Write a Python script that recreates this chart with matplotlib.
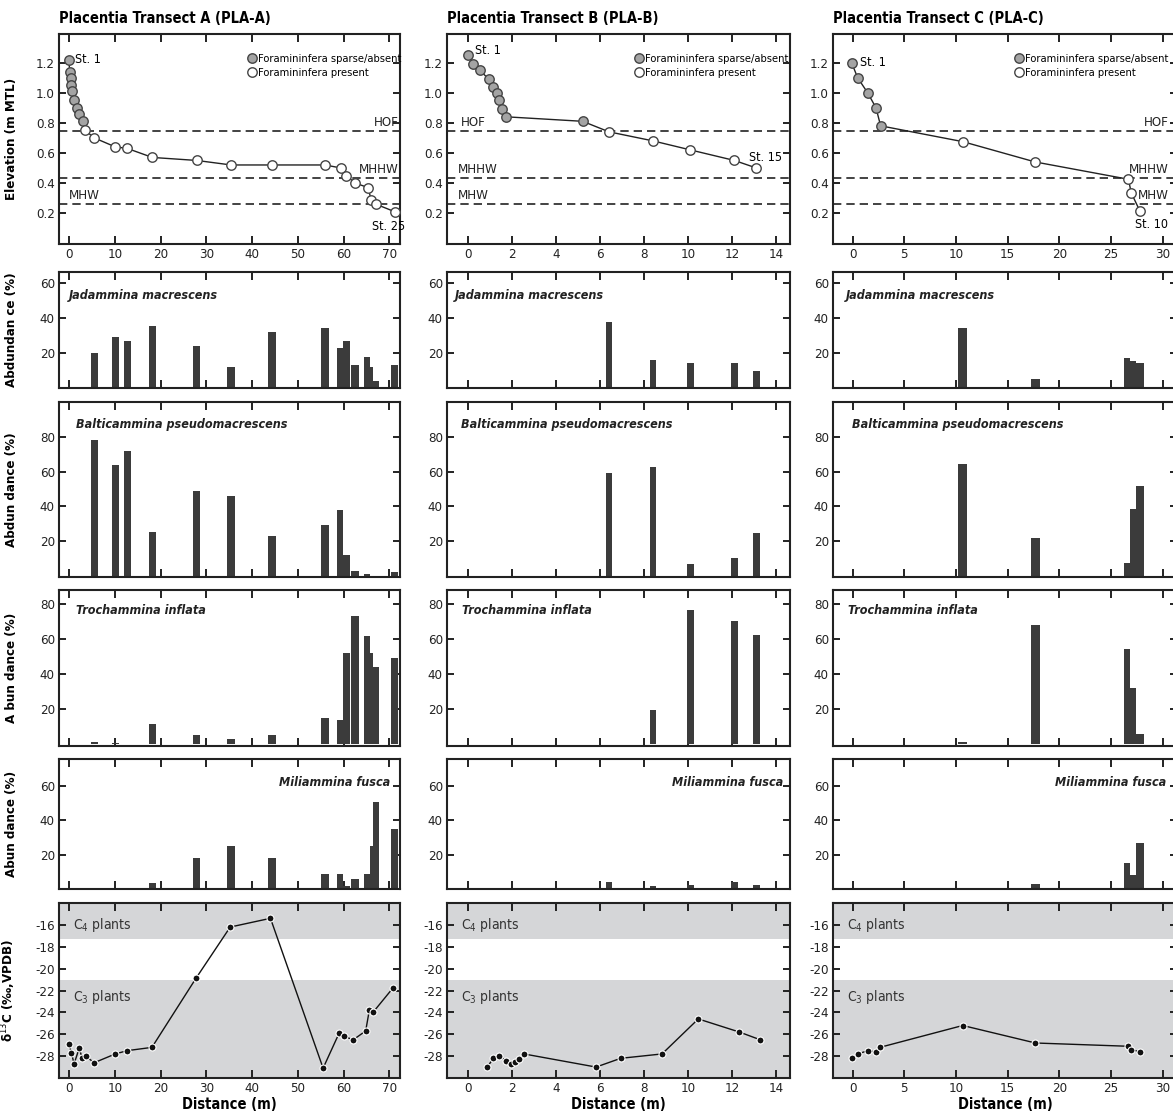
import matplotlib
matplotlib.use("Agg")
import matplotlib.pyplot as plt
import numpy as np

plt.rcParams["font.family"] = ["DejaVu Sans"]
plt.rcParams["font.stretch"] = "condensed"
plt.rcParams["axes.unicode_minus"] = False

# --------------------------------------------------------------------------- #
# elevation profiles (m MTL); sparse = foraminifera sparse/absent
A_SPARSE_X = [0.0, 0.1, 0.4, 0.5, 0.7, 1.1, 1.7, 2.1, 3.0]
A_SPARSE_Y = [1.22, 1.14, 1.10, 1.05, 1.01, 0.95, 0.90, 0.86, 0.81]
A_PRES_X = [3.5, 5.5, 10.1, 12.7, 18.2, 27.9, 35.4, 44.3, 55.9, 59.4, 60.5, 62.5,
            65.3, 66.0, 67.0, 71.1]
A_PRES_Y = [0.75, 0.70, 0.64, 0.63, 0.57, 0.55, 0.52, 0.52, 0.52, 0.50, 0.45, 0.40,
            0.37, 0.29, 0.26, 0.21]

B_SPARSE_X = [0.0, 0.23, 0.53, 0.92, 1.14, 1.29, 1.38, 1.53, 1.71, 5.2]
B_SPARSE_Y = [1.25, 1.19, 1.15, 1.09, 1.04, 1.00, 0.95, 0.89, 0.84, 0.81]
B_PRES_X = [6.4, 8.4, 10.1, 12.1, 13.1]
B_PRES_Y = [0.74, 0.68, 0.62, 0.55, 0.50]

C_SPARSE_X = [-0.1, 0.48, 1.45, 2.26, 2.71]
C_SPARSE_Y = [1.20, 1.10, 1.00, 0.90, 0.78]
C_PRES_X = [10.66, 17.67, 26.7, 26.97, 27.8]
C_PRES_Y = [0.675, 0.54, 0.425, 0.335, 0.215]

HOF, MHHW, MHW = 0.745, 0.435, 0.26

# relative abundance (%) at the "present" stations
JAD_A = [0, 20, 29, 27, 35, 24, 12, 32, 34, 23, 27, 13, 17.5, 12, 4, 13]
BAL_A = [0, 78, 64, 72, 25, 49, 46, 23, 29, 38, 12, 3, 1, 0, 0, 2]
TRO_A = [0, 1.5, 0.6, 0, 11.4, 5, 3.2, 5, 15, 14, 52, 73, 61.5, 52, 44, 49]
MIL_A = [0, 0, 0, 0, 3.5, 18, 25, 18, 9, 9, 1.6, 6, 9, 25, 50.5, 35]

JAD_B = [37.6, 16, 14, 14, 9.6]
BAL_B = [59, 62.4, 6.8, 10, 24.4]
TRO_B = [0, 19.4, 76.7, 70.5, 62.3]
MIL_B = [3.9, 1.5, 2.5, 4.2, 2.5]

JAD_C = [34.3, 5.3, 16.9, 15.4, 14.2]
BAL_C = [64.1, 21.9, 7.5, 38.2, 51.7]
TRO_C = [1, 68, 54.5, 32, 6]
MIL_C = [0.5, 3, 15, 8, 27]

# bulk sediment d13C (permil VPDB)
D13_A_X = [0.0, 0.5, 1.1, 2.2, 2.9, 3.6, 5.5, 10.1, 12.7, 18.1, 27.7, 35.2, 44.0,
           55.5, 59.0, 60.1, 62.1, 64.8, 65.6, 66.4, 70.7]
D13_A_Y = [-26.9, -27.7, -28.7, -27.3, -28.2, -28.0, -28.6, -27.8, -27.5, -27.2,
           -20.9, -16.2, -15.4, -29.1, -25.9, -26.2, -26.5, -25.7, -23.8, -24.0, -21.8]
D13_B_X = [0.86, 1.14, 1.40, 1.71, 1.94, 2.10, 2.32, 2.53, 5.81, 6.93, 8.81, 10.46,
           12.33, 13.27]
D13_B_Y = [-29.0, -28.2, -28.0, -28.4, -28.7, -28.5, -28.3, -27.8, -29.0, -28.2,
           -27.8, -24.6, -25.8, -26.5]
D13_C_X = [-0.03, 0.48, 1.5, 2.26, 2.64, 10.66, 17.7, 26.7, 26.97, 27.8]
D13_C_Y = [-28.2, -27.8, -27.5, -27.6, -27.2, -25.2, -26.8, -27.1, -27.4, -27.6]
C4_LOW, C3_HIGH = -17.3, -21.0

SPECIES = ["Jadammina macrescens", "Balticammina pseudomacrescens",
           "Trochammina inflata", "Miliammina fusca"]
ABUND_LABELS = ["Abdundan ce (%)", "Abdun dance (%)", "A bun dance (%)", "Abun dance (%)"]
SP_YLIM = [(0, 66), (-0.7, 100), (-1, 88), (0, 75.5)]
SP_YTICKS = [[20, 40, 60], [20, 40, 60, 80], [20, 40, 60, 80], [20, 40, 60]]

TRANSECTS = [
    dict(title="Placentia Transect A (PLA-A)", sx=A_SPARSE_X, sy=A_SPARSE_Y,
         px=A_PRES_X, py=A_PRES_Y, sp=[JAD_A, BAL_A, TRO_A, MIL_A],
         dx=D13_A_X, dy=D13_A_Y, last="St. 25"),
    dict(title="Placentia Transect B (PLA-B)", sx=B_SPARSE_X, sy=B_SPARSE_Y,
         px=B_PRES_X, py=B_PRES_Y, sp=[JAD_B, BAL_B, TRO_B, MIL_B],
         dx=D13_B_X, dy=D13_B_Y, last="St. 15"),
    dict(title="Placentia Transect C (PLA-C)", sx=C_SPARSE_X, sy=C_SPARSE_Y,
         px=C_PRES_X, py=C_PRES_Y, sp=[JAD_C, BAL_C, TRO_C, MIL_C],
         dx=D13_C_X, dy=D13_C_Y, last="St. 10"),
]

# --------------------------------------------------------------------------- #
# layout (pixel boxes of the original figure) and per-column styling
W, H = 1173, 1116
COL_PX = [(59, 400), (447, 790), (833, 1177)]
ROW_PX = [(34, 244), (272, 388), (402, 577), (590, 746), (759, 889), (903, 1078)]
XLIMS = [(-2.2, 72.3), (-0.97, 14.63), (-1.9, 31.4)]
XTICKS = [np.arange(0, 71, 10), np.arange(0, 15, 2), np.arange(0, 31, 5)]
BAR_W = [1.6, 0.3, 0.85]
# tide label placement: (axes-x, ha) for HOF, MHHW, MHW
TIDE_POS = [[(0.995, "right"), (0.995, "right"), (0.03, "left")],
            [(0.04, "left"), (0.032, "left"), (0.032, "left")],
            [(0.975, "right"), (0.975, "right"), (0.975, "right")]]
ST1_OFF = [(6, 0, "left", "center"), (7, 5, "left", "center"), (8, 0, "left", "center")]
LAST_OFF = [(-6, -15, "center", "center"), (9, 10, "center", "center"),
            (12, -14, "center", "center")]
LEG_X = [1.005, 0.995, 0.975]
SP_TXT = [[(0.03, 0.80), (0.05, 0.87), (0.05, 0.87), (0.97, 0.82)],
          [(0.023, 0.80), (0.04, 0.87), (0.043, 0.87), (0.98, 0.82)],
          [(0.038, 0.80), (0.054, 0.87), (0.045, 0.87), (0.97, 0.82)]]

BAR_C = "#3b3b3b"
SPINE_C = "#222222"
BAND_C = "#d5d6d8"
FS = 9.5


def make_ax(fig, col, row):
    l, r = COL_PX[col]
    t, b = ROW_PX[row]
    ax = fig.add_axes([l / W, 1 - b / H, (r - l) / W, (b - t) / H])
    ax.set_xlim(*XLIMS[col])
    ax.set_xticks(XTICKS[col])
    ax.tick_params(direction="in", top=True, right=True, length=6, width=1.4,
                   labelsize=FS, pad=3, colors=SPINE_C)
    ax.tick_params(axis="y", length=5)
    for s in ax.spines.values():
        s.set_linewidth(1.5)
        s.set_color(SPINE_C)
    return ax


def bar_edges(xs, w):
    xs = np.asarray(xs, float)
    lo, hi = xs - w / 2, xs + w / 2
    mids = (xs[1:] + xs[:-1]) / 2
    lo[1:] = np.maximum(lo[1:], mids)
    hi[:-1] = np.minimum(hi[:-1], mids)
    return lo, hi - lo


def elevation_panel(ax, col, tr):
    allx = list(tr["sx"]) + list(tr["px"])
    ally = list(tr["sy"]) + list(tr["py"])
    ax.plot(allx, ally, "-", color="#222222", lw=1.0, zorder=2)
    ax.plot(tr["sx"], tr["sy"], "o", ms=6.8, mfc="#a4a4a4", mec="#444444", mew=1.0,
            ls="none", zorder=3, label="Foramininfera sparse/absent")
    ax.plot(tr["px"], tr["py"], "o", ms=6.8, mfc="white", mec="#444444", mew=1.0,
            ls="none", zorder=3, label="Foramininfera present")
    for lvl, name, (xa, ha) in zip([HOF, MHHW, MHW], ["HOF", "MHHW", "MHW"], TIDE_POS[col]):
        ax.axhline(lvl, color="#222222", lw=1.2, dashes=(5, 3), zorder=1)
        ax.text(xa, lvl + 0.012, name, transform=ax.get_yaxis_transform(), ha=ha,
                va="bottom", fontsize=9.5, color="#222222")
    ax.set_ylim(-0.005, 1.39)
    ax.set_yticks([0.2, 0.4, 0.6, 0.8, 1.0, 1.2])
    ax.set_yticklabels([f"{v:.1f}" for v in [0.2, 0.4, 0.6, 0.8, 1.0, 1.2]])
    dx, dy, ha, va = ST1_OFF[col]
    ax.annotate("St. 1", xy=(tr["sx"][0], tr["sy"][0]), xytext=(dx, dy),
                textcoords="offset pixels", ha=ha, va=va, fontsize=9)
    dx, dy, ha, va = LAST_OFF[col]
    ax.annotate(tr["last"], xy=(tr["px"][-1], tr["py"][-1]), xytext=(dx, dy),
                textcoords="offset pixels", ha=ha, va=va, fontsize=9)
    ax.legend(loc="upper right", bbox_to_anchor=(LEG_X[col], 0.905), borderaxespad=0,
              frameon=False, fontsize=8, handlelength=0.6, handletextpad=0.25,
              labelspacing=0.35, borderpad=0, markerscale=1.0)
    ax.text(0.0, 1.04, tr["title"], transform=ax.transAxes, fontsize=10.5,
            fontweight="bold", ha="left", va="bottom")


def abundance_panel(ax, col, k, xs, vals):
    lo, wid = bar_edges(xs, BAR_W[col])
    ax.bar(lo, vals, width=wid, align="edge", color=BAR_C, linewidth=0, zorder=2)
    ax.set_ylim(*SP_YLIM[k])
    ax.set_yticks(SP_YTICKS[k])
    ax.tick_params(labelbottom=False)
    tx, ty = SP_TXT[col][k]
    ax.text(tx, ty, SPECIES[k], transform=ax.transAxes, fontsize=9,
            fontweight="bold", fontstyle="italic", ha="right" if tx > 0.5 else "left",
            va="center", color="#222222")


def carbon_panel(ax, col, tr):
    ax.set_ylim(-30, -14)
    ax.axhspan(C4_LOW, -14, color=BAND_C, lw=0, zorder=0)
    ax.axhspan(-30, C3_HIGH, color=BAND_C, lw=0, zorder=0)
    ax.plot(tr["dx"], tr["dy"], "-o", color="#111111", lw=1.0, ms=5, mfc="#111111",
            mec="white", mew=0.8, zorder=3)
    ax.set_yticks(np.arange(-28, -15, 2))
    ax.text(0.04, -16.0, "C$_4$ plants", transform=ax.get_yaxis_transform(),
            fontsize=10, va="center", ha="left", color="#333333")
    ax.text(0.04, -22.6, "C$_3$ plants", transform=ax.get_yaxis_transform(),
            fontsize=10, va="center", ha="left", color="#333333")
    ax.set_xlabel("Distance (m)", fontsize=10.5, fontweight="bold", labelpad=1)


fig = plt.figure(figsize=(W / 100, H / 100), dpi=100)
for col, tr in enumerate(TRANSECTS):
    ax = make_ax(fig, col, 0)
    elevation_panel(ax, col, tr)
    if col == 0:
        ax.set_ylabel("Elevation (m MTL)", fontsize=FS, fontweight="bold")
        ax.yaxis.set_label_coords(-0.12, 0.5)
    for k in range(4):
        ax = make_ax(fig, col, k + 1)
        abundance_panel(ax, col, k, tr["px"], tr["sp"][k])
        if col == 0:
            ax.set_ylabel(ABUND_LABELS[k], fontsize=FS, fontweight="bold")
            ax.yaxis.set_label_coords(-0.12, 0.5)
    ax = make_ax(fig, col, 5)
    carbon_panel(ax, col, tr)
    if col == 0:
        ax.set_ylabel("δ$^{13}$C (‰,VPDB)", fontsize=FS, fontweight="bold")
        ax.yaxis.set_label_coords(-0.12, 0.5)

fig.savefig("out.png", dpi=100)
